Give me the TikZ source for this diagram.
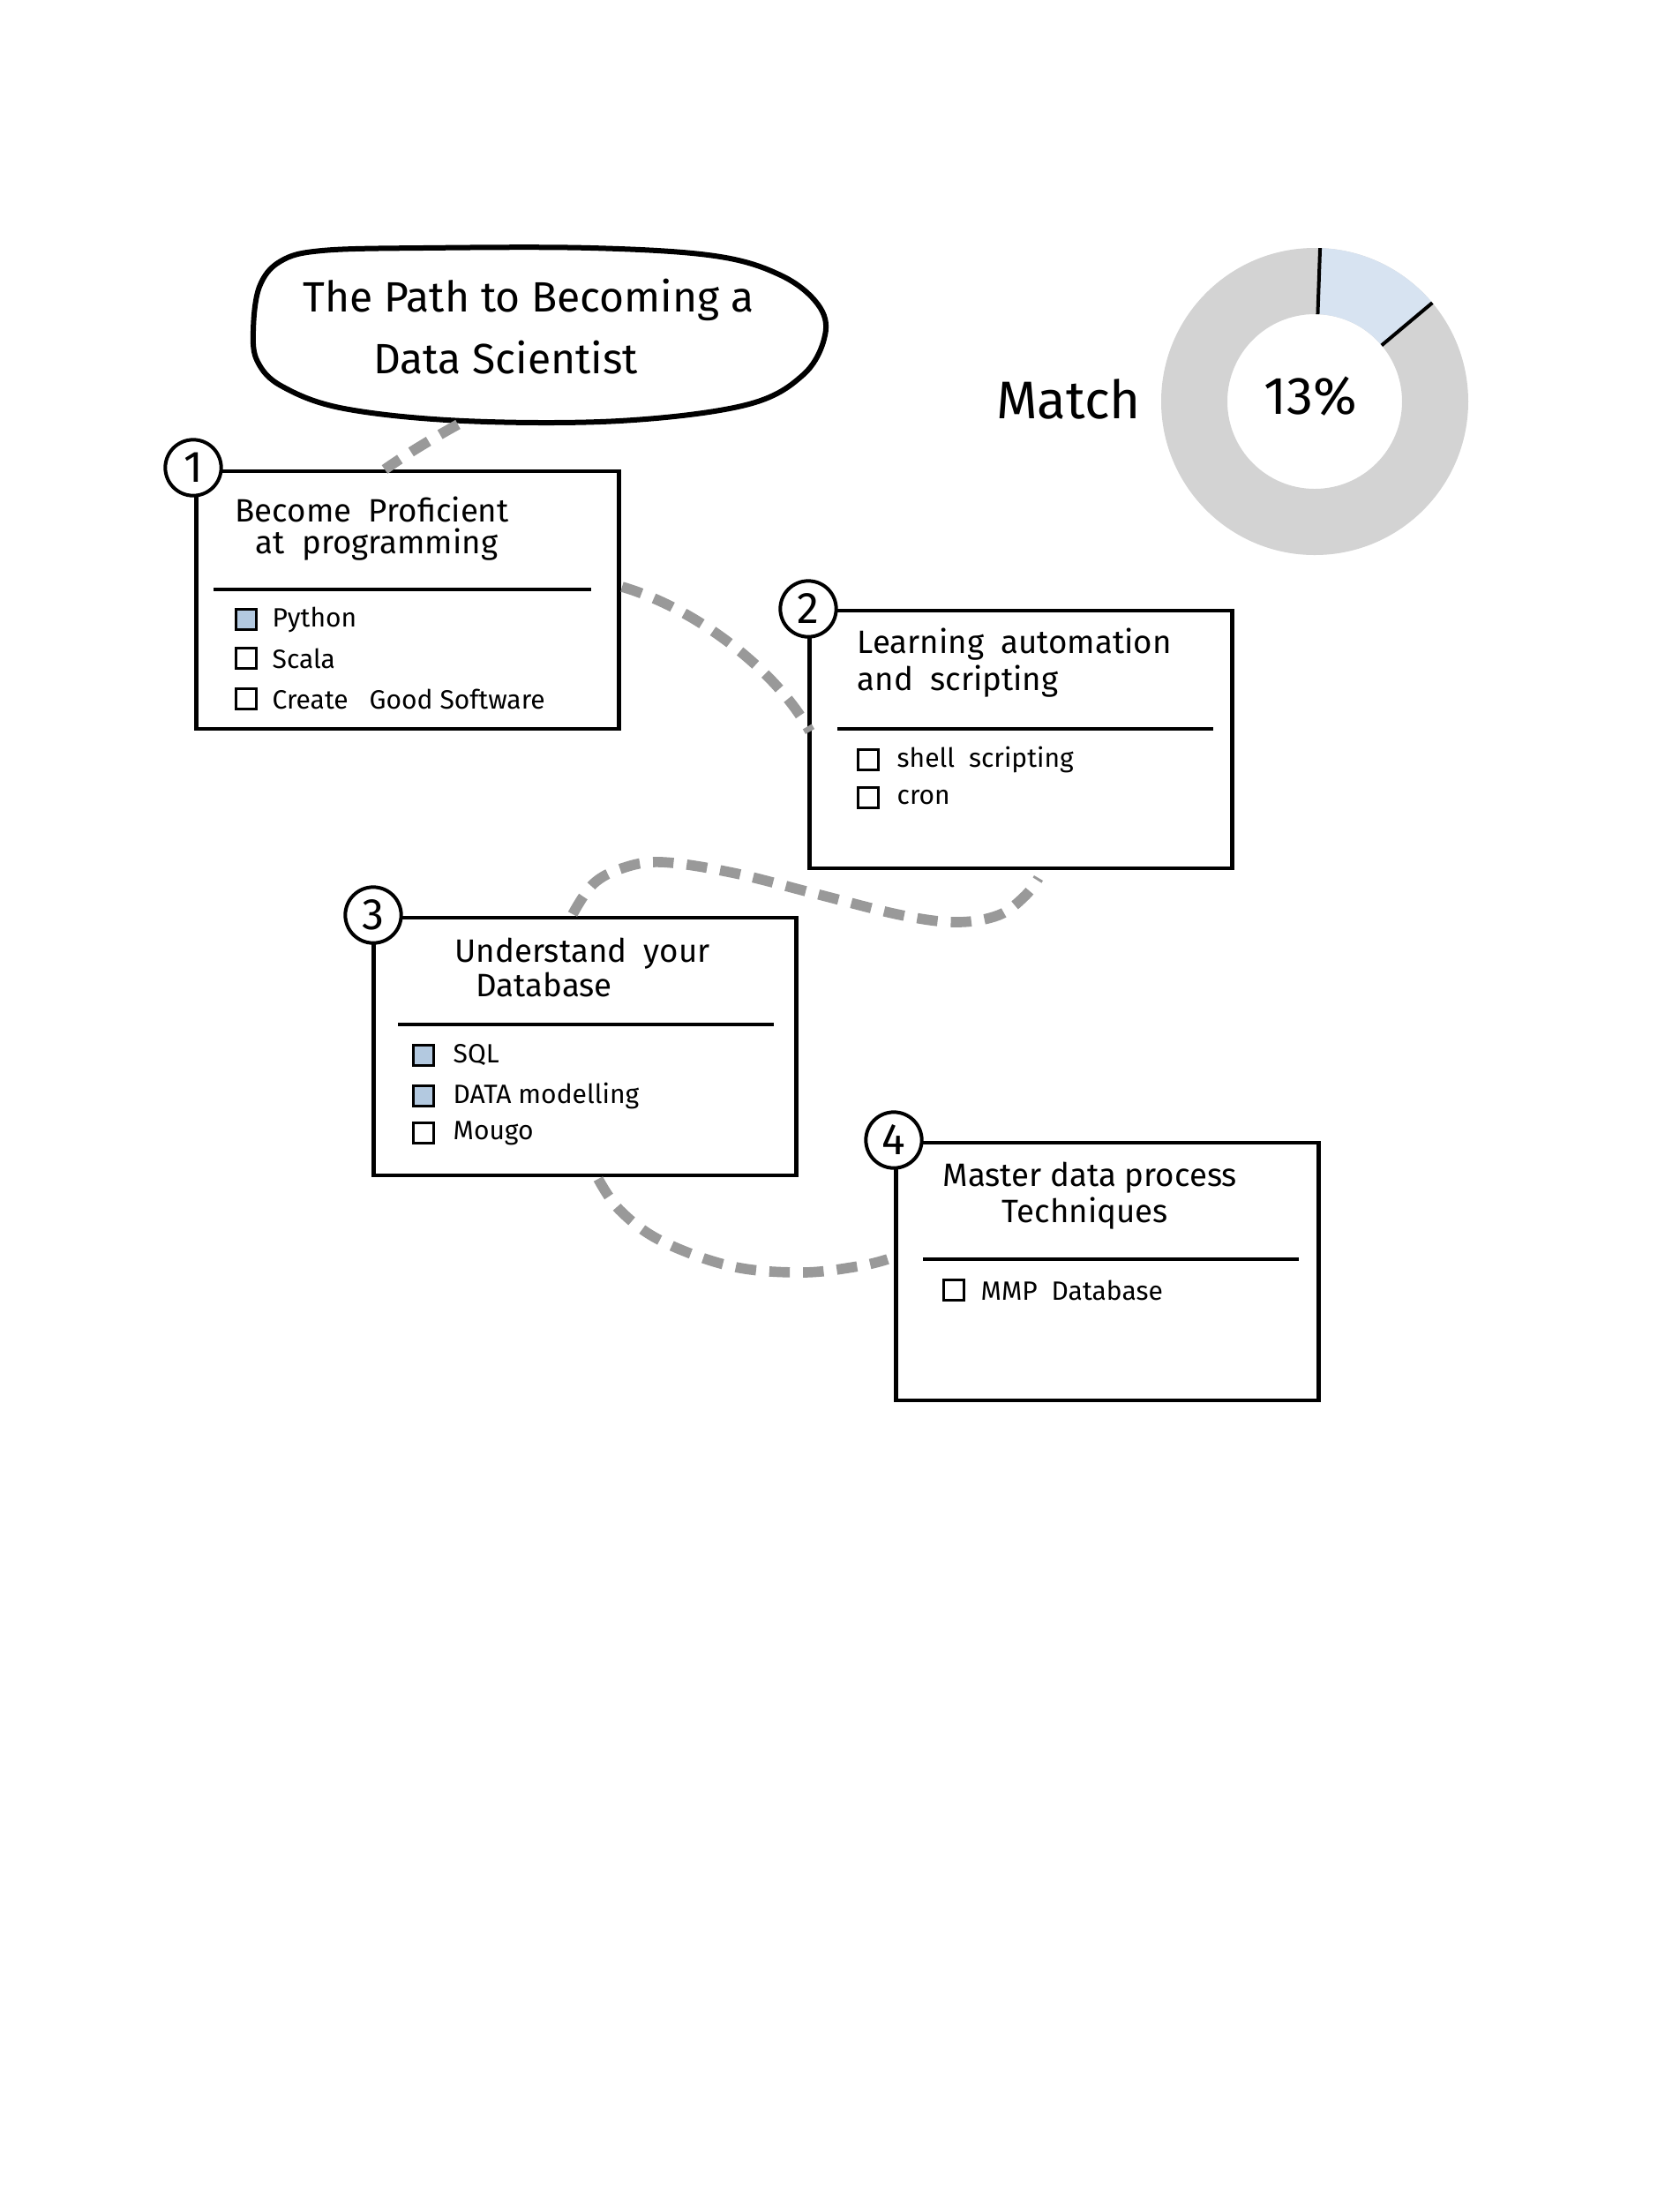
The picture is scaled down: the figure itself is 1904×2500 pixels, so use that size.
\documentclass[tikz,border=0pt]{standalone}
\usepackage{fontspec}
\setmainfont{Fira Sans}
\usetikzlibrary{calc}
\definecolor{conngray}{HTML}{999999}
\definecolor{chkblue}{HTML}{B3C9E0}
\definecolor{donutgray}{HTML}{D3D3D3}
\definecolor{donutblue}{HTML}{D7E3F1}
\begin{document}
\begin{tikzpicture}[x=0.3pt,y=-0.3pt,
  box/.style={draw, line width=1.4pt, minimum width=143.7pt, minimum height=87.6pt, inner sep=0pt},
  num/.style={circle, draw, fill=white, line width=1.2pt, minimum size=19pt, inner sep=0pt, font=\fontsize{15}{15}\selectfont},
  conn/.style={draw=conngray, line width=3.5pt, dash pattern=on 7pt off 4.5pt},
  ttl/.style={anchor=west, inner sep=0pt, font=\fontsize{11}{13}\selectfont},
  itm/.style={anchor=west, inner sep=0pt, font=\fontsize{9}{11}\selectfont},
  chk/.style={draw, line width=1pt, minimum size=7pt, inner sep=0pt},
  chkon/.style={chk, fill=chkblue},
  divider/.style={line width=1.4pt},
  bigtxt/.style={inner sep=0pt, font=\fontsize{14.4}{18}\selectfont}
]
\fill[white] (0,0) rectangle (1904,2500);
\useasboundingbox (0,0) rectangle (1904,2500);

% title blob
\draw[line width=1.8pt] plot[smooth cycle, tension=0.6] coordinates {(287,375) (294,325) (318,296) (365,284) (478,281) (670,281) (810,290) (885,312) (927,345) (935,380) (910,425) (845,459) (702,477) (526,477) (390,463) (320,438) (292,410)};
\node[bigtxt] (title1) at (599,340) {The Path to Becoming a};
\node[bigtxt] (title2) at (573,405) {Data Scientist};

% boxes
\node[box] (b1) at (462,680) {};
\node[box] (b2) at (1157,838) {};
\node[box] (b3) at (663,1186) {};
\node[box] (b4) at (1255,1441) {};

% dividers
\draw[divider] (242,668) -- (670,668);
\draw[divider] (949,826) -- (1375,826);
\draw[divider] (451,1161) -- (877,1161);
\draw[divider] (1046,1427) -- (1472,1427);

% number circles
\node[num] (n1) at (219,530) {1};
\node[num] (n2) at (916,690) {2};
\node[num] (n3) at (423,1037) {3};
\node[num] (n4) at (1013,1292) {4};

% box 1
\node[ttl] (t1a) at (266,577) {Become\ \ Proficient};
\node[ttl] (t1b) at (289,617) {at\ \ programming};
\node[chkon] (k11) at (279,702) {};
\node[chk] (k12) at (279,746) {};
\node[chk] (k13) at (279,792) {};
\node[itm] (i11) at (308,702) {Python};
\node[itm] (i12) at (308,746) {Scala};
\node[itm] (i13) at (308,792) {Create\ \ \ Good Software};

% box 2
\node[ttl] (t2a) at (971,730) {Learning\ \ automation};
\node[ttl] (t2b) at (971,772) {and\ \ scripting};
\node[chk] (k21) at (984,861) {};
\node[chk] (k22) at (984,904) {};
\node[itm] (i21) at (1016,861) {shell\ \ scripting};
\node[itm] (i22) at (1016,904) {cron};

% box 3
\node[ttl] (t3a) at (515,1081) {Understand\ \ your};
\node[ttl] (t3b) at (539,1116) {Database};
\node[chkon] (k31) at (480,1196) {};
\node[chkon] (k32) at (480,1242) {};
\node[chk] (k33) at (480,1284) {};
\node[itm] (i31) at (513,1196) {SQL};
\node[itm] (i32) at (513,1242) {DATA modelling};
\node[itm] (i33) at (513,1284) {Mougo};

% box 4
\node[ttl] (t4a) at (1068,1335) {Master data process};
\node[ttl] (t4b) at (1135,1375) {Techniques};
\node[chk] (k41) at (1081,1462) {};
\node[itm] (i41) at (1111,1462) {MMP\ \ Database};

% connectors
\coordinate (c1a) at (519,481);
\coordinate (c1b) at (436,532);
\coordinate (c2a) at (705,665);
\coordinate (c2b) at (918,829);
\coordinate (c3a) at (649,1036);
\coordinate (c3b) at (1177,995);
\coordinate (c4a) at (678,1336);
\coordinate (c4b) at (1006,1427);
\draw[conn] (c1a) .. controls (490,497) and (460,515) .. (c1b);
\draw[conn] (c2a) .. controls (790,690) and (880,760) .. (c2b);
\draw[conn] plot[smooth, tension=0.6] coordinates {(c3a) (672,1002) (705,984) (750,977) (830,989) (925,1013) (1021,1037) (1084,1045) (1132,1037) (1162,1015) (c3b)};
\draw[conn] plot[smooth, tension=0.6] coordinates {(c4a) (702,1371) (749,1406) (829,1435) (909,1442) (973,1435) (c4b)};

% donut
\coordinate (donut) at (1490,455);
\fill[donutgray, even odd rule] (donut) circle[radius=174] (donut) circle[radius=99];
\fill[donutblue] ($(donut)+(-88:174)$) arc[start angle=-88, end angle=-40, radius=174] -- ($(donut)+(-40:99)$) arc[start angle=-40, end angle=-88, radius=99] -- cycle;
\draw[line width=1.2pt] ($(donut)+(-88:99)$) -- ($(donut)+(-88:174)$);
\draw[line width=1.2pt] ($(donut)+(-40:99)$) -- ($(donut)+(-40:174)$);
\node[inner sep=0pt, font=\fontsize{18}{20}\selectfont] (pct) at (1485,449) {13\%};
\node[inner sep=0pt, font=\fontsize{18}{20}\selectfont] (match) at (1211,452) {Match};
\end{tikzpicture}
\end{document}
